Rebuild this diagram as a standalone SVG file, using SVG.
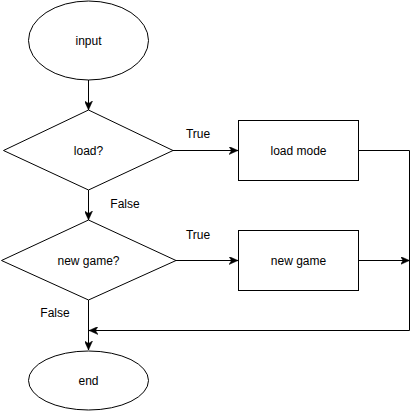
<svg xmlns="http://www.w3.org/2000/svg" width="417" height="411" viewBox="0 0 417 411">
<style>
.shape{fill:#fff;stroke:#000;stroke-width:1}
.edge{fill:none;stroke:#000;stroke-width:1}
text{font-family:"Liberation Sans",Arial,sans-serif;font-size:12px;fill:#000}
.c{text-anchor:middle;dominant-baseline:central}
</style>
<defs>
<marker id="arr" viewBox="0 0 10 8" refX="9" refY="4" markerWidth="10" markerHeight="8" markerUnits="userSpaceOnUse" orient="auto">
<path d="M0,0 L9,4 L0,8 L2.5,4 z" fill="#000" stroke="#000" stroke-width="0.5"/>
</marker>
</defs>
<g id="connectors">
<path class="edge" d="M88.5,80 L88.5,110" marker-end="url(#arr)"/>
<path class="edge" d="M173,150.5 L238,150.5" marker-end="url(#arr)"/>
<path class="edge" d="M88.5,190 L88.5,220" marker-end="url(#arr)"/>
<path class="edge" d="M176,260.5 L238,260.5" marker-end="url(#arr)"/>
<path class="edge" d="M358,150.5 L409.5,150.5 L409.5,330.5 L89,330.5" marker-end="url(#arr)"/>
<path class="edge" d="M358,260.5 L409.5,260.5" marker-end="url(#arr)"/>
<path class="edge" d="M88.5,300 L88.5,350" marker-end="url(#arr)"/>
<text class="c" x="198" y="134">True</text>
<text class="c" x="125" y="204">False</text>
<text class="c" x="198" y="235">True</text>
<text class="c" x="55" y="313">False</text>
</g>
<g id="input">
<ellipse class="shape" cx="88.5" cy="40.5" rx="60" ry="39.5"/>
<text class="c" x="88.5" y="41">input</text>
</g>
<g id="load">
<polygon class="shape" points="88.5,110 173,150.5 88.5,190 3.5,150.5"/>
<text class="c" x="88.5" y="151">load?</text>
</g>
<g id="loadmode">
<rect class="shape" x="238.5" y="120.5" width="120" height="60"/>
<text class="c" x="298.5" y="150.5">load mode</text>
</g>
<g id="newgameq">
<polygon class="shape" points="88.5,220 176,260.5 88.5,300 1.5,260.5"/>
<text class="c" x="88.5" y="261">new game?</text>
</g>
<g id="newgame">
<rect class="shape" x="238.5" y="230.5" width="120" height="60"/>
<text class="c" x="298.5" y="260.5">new game</text>
</g>
<g id="end">
<ellipse class="shape" cx="88.5" cy="380.5" rx="60" ry="29.5"/>
<text class="c" x="88.5" y="381">end</text>
</g>
</svg>
